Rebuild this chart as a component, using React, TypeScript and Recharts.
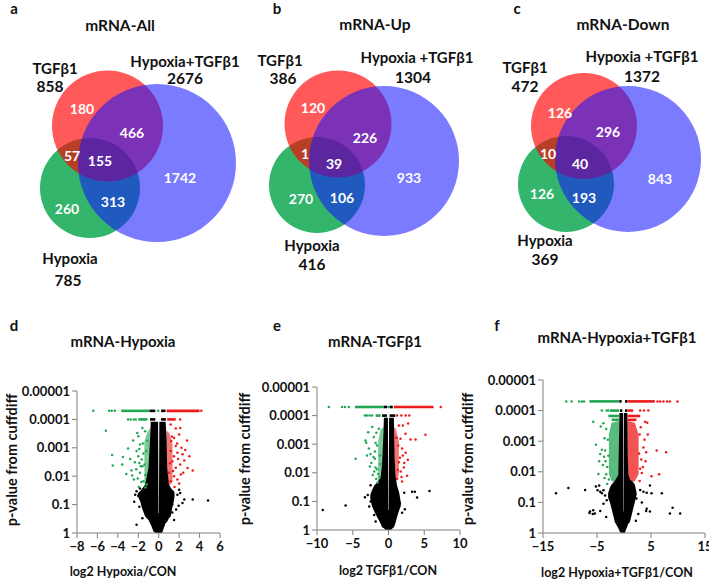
import React from 'react';
import { ComposedChart, ScatterChart, Scatter, XAxis, YAxis, Area, Line } from 'recharts';

const FONT = 'Lato, "Open Sans", Arial, sans-serif';

// ---------------- Venn data ----------------
const vennTitles = ['mRNA-All', 'mRNA-Up', 'mRNA-Down'];
const vennLetters = ['a', 'b', 'c'];
const tgfName = 'TGFβ1';
const hypName = 'Hypoxia';
const comboNames = ['Hypoxia+TGFβ1', 'Hypoxia +TGFβ1', 'Hypoxia +TGFβ1'];
const tgfTotals = [858, 386, 472];
const hypTotals = [785, 416, 369];
const comboTotals = [2676, 1304, 1372];
// region order: TGF only, TGF∩combo, TGF∩Hyp, all three, combo only, Hyp∩combo, Hyp only
const regionsAll = [180, 466, 57, 155, 1742, 313, 260];
const regionsUp = [120, 226, 1, 39, 933, 106, 270];
const regionsDown = [126, 296, 10, 40, 843, 193, 126];
const vennRegions = [regionsAll, regionsUp, regionsDown];

// ---------------- Venn layout (venn units, 1 unit = 10px) ----------------
const VENN_OFFSETS = [0, 23.6, 47.2];
// circles [cx, cy, r]: Hypoxia, TGFβ1, Hypoxia+TGFβ1
const vennCircleLayout = [
  [[9.0, 18.8, 5.0], [10.75, 12.6, 5.55], [15.7, 16.3, 7.9]],
  [[8.1, 18.5, 4.8], [10.2, 12.4, 5.35], [14.8, 16.1, 7.5]],
  [[9.4, 18.4, 4.8], [11.2, 12.6, 5.3], [15.6, 15.9, 7.3]],
];
const circleStyles = [
  { fill: 'rgb(0,162,70)', opacity: 0.8 },
  { fill: 'rgb(255,0,0)', opacity: 0.65 },
  { fill: 'rgb(20,20,255)', opacity: 0.56 },
];
const regionLabelLayout = [
  [[8.2, 10.8], [13.2, 13.2], [7.2, 15.5], [10.0, 16.0], [18.0, 17.7], [11.3, 20.1], [6.7, 20.8]],
  [[7.7, 10.7], [12.9, 13.7], [6.9, 15.3], [9.8, 16.3], [17.3, 17.7], [10.6, 19.7], [6.5, 19.8]],
  [[8.8, 11.2], [13.6, 13.1], [7.6, 15.3], [10.8, 16.3], [18.8, 17.8], [11.2, 19.7], [7.0, 19.3]],
];
// [name x, name y, count x, count y] for TGF, Hyp, combo
const setLabelLayout = [
  [[5.5, 6.8, 5.0, 8.6], [7.0, 25.8, 6.8, 28.0], [18.5, 6.1, 18.5, 7.8]],
  [[4.4, 6.0, 4.7, 7.8], [7.6, 24.5, 7.6, 26.4], [18.1, 5.7, 17.7, 7.7]],
  [[5.3, 6.7, 5.3, 8.6], [7.3, 24.0, 7.3, 25.9], [17.0, 5.6, 17.0, 7.6]],
];
const UNIT = 10;

// ---------------- Volcano data: [log2FC, p] ----------------
const pTicks = [0.00001, 0.0001, 0.001, 0.01, 0.1, 1];
const pTickLabels = ['0.00001', '0.0001', '0.001', '0.01', '0.1', '1'];
const hypXTicks = [-8, -6, -4, -2, 0, 2, 4, 6];
const tgfXTicks = [-10, -5, 0, 5, 10];
const comboXTicks = [-15, -5, 5, 15];

// dense black cloud: [x, p bottom, p top]
const hypCone = [
  [-2.05, 0.05, 0.04], [-1.8, 0.08, 0.033], [-1.65, 0.13, 0.028], [-1.33, 0.26, 0.02], [-1.0, 0.35, 0.005],
  [-0.85, 0.45, 0.0005], [-0.78, 0.5, 0.00012], [-0.5, 0.9, 0.00012], [-0.3, 1, 0.00012], [-0.06, 1, 0.00012],
  [-0.02, 1, 0.2], [0.02, 1, 0.2], [0.06, 1, 0.00012], [0.33, 1, 0.00012],
  [0.67, 0.45, 0.00012], [0.77, 0.42, 0.0004], [0.83, 0.4, 0.005], [1.0, 0.3, 0.02], [1.17, 0.26, 0.025],
  [1.33, 0.13, 0.03], [1.5, 0.07, 0.034], [1.55, 0.05, 0.04],
];
const hypGreenBand = [[-1.4, 0.02, 0.0006], [-1.15, 0.025, 0.0003], [-0.85, 0.02, 0.0002]];
const hypRedBand = [[0.77, 0.02, 0.00025], [1.05, 0.022, 0.0003], [1.35, 0.016, 0.0008]];
// dense rows: [p, x from, x to, colour]
const hypRows = [
  [0.00005, -3.67, -0.9, 'g'], [0.00005, -0.9, -0.33, 'k'], [0.00005, 0.23, 0.67, 'k'], [0.00005, 0.77, 4.0, 'r'],
  [0.0001, -2.0, -1.1, 'g'], [0.0001, -0.85, -0.33, 'k'], [0.0001, 0.23, 0.7, 'k'], [0.0001, 0.83, 1.67, 'r'],
];
const hypGreen = [
  [-6.4, 5e-5], [-4.85, 5e-5], [-4.6, 5e-5], [-4.3, 5e-5], [-0.05, 5e-5],
  [-3.0, 1e-4], [-2.75, 1e-4], [-2.45, 1e-4], [-2.25, 1e-4],
  [-5.17, 2.5e-4], [-4.57, 0.0018], [-4.5, 0.0042], [-3.5, 0.0021], [-3.57, 0.0039], [-3.17, 0.0083],
  [-3.0, 0.00105], [-2.67, 0.0063], [-2.5, 0.00055], [-2.33, 0.0032], [-2.17, 0.0013], [-2.43, 0.013],
  [-2.0, 0.00039], [-1.83, 0.00076], [-1.67, 0.0026], [-1.83, 0.0076], [-1.5, 0.015], [-1.33, 0.00026],
  [-1.4, 0.0039], [-1.23, 0.0013], [-1.17, 0.0195], [-1.1, 0.00057], [-2.0, 0.002], [-1.6, 0.0045],
  [-2.6, 0.0095], [-1.3, 0.009], [-2.2, 0.0057], [-1.9, 0.0011], [-1.55, 0.0007], [-1.7, 0.016],
  [-2.8, 0.0025], [-1.95, 0.024], [-1.3, 0.025], [-2.1, 0.0003], [-1.6, 0.0002], [-1.75, 0.0045],
  [-2.05, 0.012], [-1.5, 0.0016], [-1.9, 0.0034],
];
const hypRed = [
  [4.17, 5e-5], [2.1, 1e-4],
  [1.17, 1.5e-4], [1.67, 2.1e-4], [2.1, 2e-4], [2.0, 3.4e-4], [1.5, 4.5e-4], [2.77, 5.5e-4], [2.23, 0.001],
  [1.83, 0.0015], [2.33, 0.0017], [1.5, 0.002], [3.0, 0.002], [1.17, 0.0013], [1.33, 0.003], [2.1, 0.0039],
  [2.83, 0.0051], [3.33, 0.0063], [1.67, 0.005], [2.17, 0.0087], [1.5, 0.01], [1.17, 0.015], [1.83, 0.013],
  [1.0, 0.0075], [2.5, 0.0028], [1.23, 5.8e-4], [1.67, 8.7e-4], [2.6, 0.0012], [1.9, 0.0025], [1.4, 0.0065],
  [2.0, 0.018], [1.55, 0.024], [1.1, 0.0035], [1.8, 0.0007], [2.4, 0.0075], [1.3, 0.0004],
];
const hypBlack = [
  [4.83, 0.072], [3.33, 0.066], [2.5, 0.066], [2.1, 0.039], [2.33, 0.088], [1.83, 0.045], [1.33, 0.1],
  [1.33, 0.19], [1.7, 0.15], [-2.17, 0.51], [-2.17, 0.034], [-1.83, 0.027], [-2.0, 0.05], [-2.4, 0.08],
  [-1.9, 0.12], [-1.6, 0.3], [1.5, 0.35], [-2.3, 0.045], [2.0, 0.03], [1.95, 0.11],
];

const tgfCone = [
  [-2.55, 0.08, 0.06], [-2.3, 0.15, 0.04], [-2.0, 0.22, 0.028], [-1.6, 0.35, 0.022], [-1.1, 0.6, 0.015],
  [-0.9, 0.8, 0.005], [-0.7, 0.85, 0.0004], [-0.65, 0.87, 0.00012], [-0.4, 1, 0.00012], [-0.08, 1, 0.00012],
  [-0.03, 1, 0.2], [0.03, 1, 0.2], [0.08, 1, 0.00012], [0.3, 1, 0.00012], [0.75, 0.8, 0.00012],
  [0.85, 0.7, 0.003], [1.0, 0.55, 0.015], [1.2, 0.35, 0.028], [1.5, 0.2, 0.05], [1.7, 0.15, 0.1], [1.75, 0.12, 0.11],
];
const tgfGreenBand = [[-1.45, 0.02, 0.0008], [-1.1, 0.025, 0.0003], [-0.65, 0.02, 0.00025]];
const tgfRedBand = [[0.75, 0.02, 0.00025], [1.05, 0.022, 0.0003], [1.45, 0.012, 0.0008]];
const tgfRows = [
  [0.00005, -4.7, -0.65, 'g'], [0.00005, -0.65, -0.2, 'k'], [0.00005, 0.15, 0.6, 'k'], [0.00005, 0.75, 6.3, 'r'],
  [0.0001, -1.8, -1.1, 'g'], [0.0001, -0.9, -0.2, 'k'], [0.0001, 0.15, 0.95, 'k'],
];
const tgfGreen = [
  [-8.35, 5e-5], [-6.5, 5e-5], [-6.1, 5e-5], [-5.55, 5e-5], [-0.03, 5e-5],
  [-3.3, 1e-4], [-3.0, 1e-4], [-2.65, 1e-4], [-2.3, 1e-4],
  [-3.22, 7.4e-4], [-3.12, 8.9e-4], [-2.84, 3.8e-4], [-2.75, 0.0014], [-2.52, 0.0022], [-4.6, 0.0032],
  [-2.28, 2.5e-4], [-2.05, 5.6e-4], [-1.9, 0.0032], [-1.82, 0.0065], [-1.72, 0.0165], [-1.6, 0.0011],
  [-1.45, 0.011], [-1.35, 2.9e-4], [-1.21, 0.0025], [-1.12, 0.0049], [-2.4, 0.0045], [-2.0, 0.009],
  [-1.7, 0.0004], [-2.6, 0.006], [-1.5, 0.022], [-3.0, 0.0025], [-1.9, 0.0018], [-2.2, 0.012],
  [-1.6, 0.0075], [-2.1, 0.0028], [-1.8, 0.0009], [-1.25, 0.014],
];
const tgfRed = [
  [7.3, 5e-5], [1.2, 1e-4], [1.8, 1e-4], [2.4, 1e-4], [2.9, 1e-4],
  [1.45, 2.2e-4], [2.0, 2.2e-4], [2.75, 1.9e-4], [5.17, 4.7e-4], [3.78, 6.9e-4], [3.08, 6.9e-4],
  [2.38, 4.3e-4], [1.68, 6.5e-4], [1.35, 0.0011], [1.9, 0.0014], [2.0, 0.0025], [1.45, 0.0043],
  [2.14, 0.0065], [2.6, 0.0126], [1.82, 0.014], [1.2, 0.016], [1.6, 0.003], [2.4, 0.002], [1.3, 0.008],
  [1.9, 0.02], [2.7, 0.0035], [1.1, 0.0006], [1.7, 0.009], [2.2, 0.0045],
];
const tgfBlack = [
  [-9.2, 0.2], [-6.0, 0.14], [-3.3, 0.072], [-2.5, 0.1], [-2.5, 0.027], [3.3, 0.046], [3.68, 0.046],
  [5.73, 0.043], [4.0, 0.073], [2.28, 0.19], [-2.9, 0.06], [-2.0, 0.3], [1.9, 0.25], [2.2, 0.05],
  [-2.7, 0.15], [-1.8, 0.5],
];

const comboCone = [
  [-2.95, 0.07, 0.05], [-2.6, 0.1, 0.032], [-2.3, 0.16, 0.026], [-1.7, 0.44, 0.02], [-1.05, 0.7, 0.0125],
  [-0.9, 0.8, 0.0005], [-0.86, 0.85, 0.00012], [-0.74, 0.95, 0.00012], [-0.35, 1, 0.00012], [-0.16, 1, 0.00012],
  [-0.12, 1, 0.2], [-0.06, 1, 0.2], [-0.02, 1, 0.00012], [0.15, 1, 0.00012], [0.62, 0.6, 0.00012],
  [0.7, 0.55, 0.003], [0.8, 0.5, 0.0125], [1.1, 0.44, 0.018], [1.7, 0.16, 0.022], [2.0, 0.1, 0.026],
  [2.3, 0.06, 0.045], [2.35, 0.055, 0.05],
];
const comboGreenBand = [[-2.8, 0.012, 0.0006], [-2.3, 0.02, 0.00025], [-0.86, 0.026, 0.00022]];
const comboRedBand = [[0.62, 0.026, 0.00022], [2.0, 0.02, 0.00025], [2.7, 0.012, 0.0006]];
const comboRows = [
  [0.00005, -6.4, -0.86, 'g'], [0.00005, -0.86, -0.43, 'k'], [0.00005, 0.19, 0.62, 'k'], [0.00005, 0.62, 5.7, 'r'],
  [0.0001, -2.6, -0.86, 'g'], [0.0001, -0.74, -0.3, 'k'], [0.0001, 0.19, 0.62, 'k'], [0.0001, 0.62, 1.7, 'r'],
  [0.00015, -2.9, -0.86, 'g'], [0.00015, 0.62, 3.0, 'r'],
  [0.0002, -2.3, -0.86, 'g'], [0.0002, 0.62, 2.3, 'r'],
];
const comboGreen = [
  [-10.7, 5e-5], [-9.7, 5e-5], [-8.3, 5e-5], [-7.8, 5e-5], [-7.4, 5e-5],
  [-4.1, 1e-4], [-3.2, 1e-4], [-2.9, 1e-4],
  [-5.7, 2.3e-4], [-4.3, 3.3e-4], [-3.8, 2.6e-4], [-5.2, 0.0013], [-4.1, 0.0019], [-4.4, 0.0026],
  [-4.75, 0.0117], [-3.4, 0.0045], [-3.6, 0.0008], [-3.3, 0.012], [-3.9, 0.006], [-3.5, 0.002],
  [-4.6, 0.0045], [-3.6, 0.016], [-3.1, 0.025], [-3.3, 0.0004], [-3.0, 0.0009], [-2.9, 0.003],
  [-3.1, 0.007], [-2.8, 0.018], [-3.7, 0.0032],
];
const comboRed = [
  [6.2, 5e-5], [6.7, 5e-5], [7.3, 5e-5], [8.0, 5e-5], [8.5, 5e-5], [9.9, 5e-5],
  [3.0, 1e-4], [3.7, 1e-4], [4.5, 1e-4],
  [3.9, 2.3e-4], [4.3, 2.5e-4], [6.05, 0.002], [7.8, 0.0023], [5.1, 0.014], [6.5, 0.012], [4.1, 0.0023],
  [3.1, 3.5e-4], [3.6, 0.0016], [3.2, 0.004], [3.5, 0.007], [3.8, 0.0009], [3.3, 0.011], [2.9, 0.02],
  [4.4, 0.0006], [2.8, 0.0025], [3.0, 0.008], [4.0, 0.0045], [2.9, 0.0006],
];
const comboBlack = [
  [-12.6, 0.05], [-10.3, 0.034], [-7.2, 0.039], [-5.2, 0.03], [-4.9, 0.04], [-4.4, 0.045], [-4.1, 0.05],
  [-3.8, 0.04], [-4.6, 0.028], [-6.3, 0.2], [-6.4, 0.22], [-5.7, 0.18], [-5.4, 0.23], [-5.8, 0.24],
  [-4.4, 0.19], [-3.8, 0.11], [-3.2, 0.085], [3.0, 0.039], [3.6, 0.045], [4.2, 0.048], [4.8, 0.028],
  [5.1, 0.05], [7.0, 0.05], [4.2, 0.16], [4.1, 0.19], [4.8, 0.2], [9.0, 0.15], [8.5, 0.23], [10.4, 0.23],
  [2.3, 0.075], [2.65, 0.24], [-3.3, 0.3], [2.2, 0.4], [-3.5, 0.06], [3.3, 0.1],
];

// ---------------- styles ----------------
const GREEN = '#22a653';
const RED = '#ee1a1a';
const BLACK = '#000000';
const AXIS = '#808080';
const rowColor: Record<string, string> = { g: GREEN, r: RED, k: BLACK };

// ---------------- helpers ----------------
const toPts = (arr: number[][]) => arr.map(([x, p]) => ({ x, p }));
const toRange = (arr: number[][]) => arr.map(([x, lo, hi]) => ({ x, range: [lo, hi] }));
const fmtX = (v: number) => (v < 0 ? '\u2212' + Math.abs(v) : String(v));
const fmtP = (v: number) => {
  const i = pTicks.findIndex((t) => Math.abs(t - v) / t < 1e-6);
  return i >= 0 ? pTickLabels[i] : String(v);
};

const dot = (color: string) => (props: any) => {
  const { cx, cy } = props;
  if (cx == null || cy == null) return <g />;
  return <circle cx={cx} cy={cy} r={1.25} fill={color} />;
};

const VennCircle = (props: any) => {
  const { cx, cy, payload } = props;
  return <circle cx={cx} cy={cy} r={payload.r * UNIT} fill={payload.fill} fillOpacity={payload.opacity} />;
};

const VennText = (props: any) => {
  const { cx, cy, payload } = props;
  return (
    <text x={cx} y={cy} textAnchor="middle" dominantBaseline="central" fontSize={payload.size}
      fontWeight={700} fontFamily={FONT} fill={payload.fill}>{payload.text}</text>
  );
};

const circleData: any[] = [];
const vennTextData: any[] = [];
for (let i = 0; i < 3; i++) {
  const off = VENN_OFFSETS[i];
  vennCircleLayout[i].forEach(([cx, cy, r], j) => {
    circleData.push({ x: cx + off, y: cy, r, ...circleStyles[j] });
  });
  vennRegions[i].forEach((count, k) => {
    const [lx, ly] = regionLabelLayout[i][k];
    vennTextData.push({ x: lx + off, y: ly, text: String(count), size: 14, fill: '#ffffff' });
  });
  const names = [tgfName, hypName, comboNames[i]];
  const totals = [tgfTotals[i], hypTotals[i], comboTotals[i]];
  setLabelLayout[i].forEach(([nx, ny, tx, ty], k) => {
    vennTextData.push({ x: nx + off, y: ny, text: names[k], size: 15, fill: '#111' });
    vennTextData.push({ x: tx + off, y: ty, text: String(totals[k]), size: 15.5, fill: '#111' });
  });
}

const Txt = ({ x, y, size, children, rotate }: any) => (
  <div style={{
    position: 'absolute', left: x, top: y,
    transform: `translate(-50%, -50%)${rotate ? ' rotate(-90deg)' : ''}`,
    fontSize: size, fontWeight: 700, fontFamily: FONT, whiteSpace: 'nowrap', lineHeight: 1, color: '#111',
  }}>{children}</div>
);

const tickStyle = { fill: '#111', fontSize: 13, fontWeight: 700, fontFamily: FONT };

function Volcano(props: any) {
  const { left, width, margin, xDomain, xTicks, cone, greenBand, redBand, bandOpacity, rows, green, red, black } = props;
  return (
    <div style={{ position: 'absolute', left, top: 300 }}>
      <ComposedChart width={width} height={280} margin={margin}>
        <XAxis type="number" dataKey="x" domain={xDomain} ticks={xTicks} interval={0} allowDataOverflow
          tickFormatter={fmtX} stroke={AXIS} tickSize={5} tickMargin={4} height={30} tick={tickStyle} />
        <YAxis type="number" dataKey="p" scale="log" domain={[0.00001, 1]} reversed ticks={pTicks}
          interval={0} allowDataOverflow tickFormatter={fmtP} width={60} stroke={AXIS} tickSize={5} tick={tickStyle} />
        <Area data={toRange(greenBand)} dataKey="range" type="linear" stroke="none" fill={GREEN} fillOpacity={bandOpacity}
          isAnimationActive={false} dot={false} activeDot={false} />
        <Area data={toRange(redBand)} dataKey="range" type="linear" stroke="none" fill={RED} fillOpacity={bandOpacity}
          isAnimationActive={false} dot={false} activeDot={false} />
        <Area data={toRange(cone)} dataKey="range" type="linear" stroke="none" fill={BLACK} fillOpacity={1}
          isAnimationActive={false} dot={false} activeDot={false} />
        {rows.map(([p, x1, x2, c]: any[], i: number) => (
          <Line key={'row' + i} data={[{ x: x1, p }, { x: x2, p }]} dataKey="p" type="linear" stroke={rowColor[c]}
            strokeWidth={2.6} dot={false} activeDot={false} isAnimationActive={false} />
        ))}
        <Scatter data={toPts(black)} shape={dot(BLACK)} isAnimationActive={false} />
        <Scatter data={toPts(green)} shape={dot(GREEN)} isAnimationActive={false} />
        <Scatter data={toPts(red)} shape={dot(RED)} isAnimationActive={false} />
      </ComposedChart>
    </div>
  );
}

export default function App() {
  return (
    <div style={{ position: 'absolute', left: 0, top: 0, width: 709, height: 580, background: '#fff', overflow: 'hidden' }}>
      <div style={{ position: 'absolute', left: 0, top: 0 }}>
        <ScatterChart width={709} height={300} margin={{ top: 0, right: 0, bottom: 0, left: 0 }}>
          <XAxis type="number" dataKey="x" domain={[0, 70.9]} hide allowDataOverflow />
          <YAxis type="number" dataKey="y" domain={[0, 30]} reversed hide allowDataOverflow />
          <Scatter data={circleData} shape={VennCircle} isAnimationActive={false} />
          <Scatter data={vennTextData} shape={VennText} isAnimationActive={false} />
        </ScatterChart>
      </div>

      <Txt x={14} y={8} size={15}>{vennLetters[0]}</Txt>
      <Txt x={277} y={8} size={15}>{vennLetters[1]}</Txt>
      <Txt x={517} y={8} size={15}>{vennLetters[2]}</Txt>
      <Txt x={120} y={26} size={15.5}>{vennTitles[0]}</Txt>
      <Txt x={375} y={25} size={15.5}>{vennTitles[1]}</Txt>
      <Txt x={623} y={25} size={15.5}>{vennTitles[2]}</Txt>

      <Volcano left={0} width={236} margin={{ top: 91, right: 16, bottom: 17, left: 17 }}
        xDomain={[-8, 6]} xTicks={hypXTicks} cone={hypCone} greenBand={hypGreenBand} redBand={hypRedBand}
        bandOpacity={0.6} rows={hypRows} green={hypGreen} red={hypRed} black={hypBlack} />
      <Volcano left={236} width={236} margin={{ top: 87, right: 12, bottom: 20, left: 21 }}
        xDomain={[-10, 10]} xTicks={tgfXTicks} cone={tgfCone} greenBand={tgfGreenBand} redBand={tgfRedBand}
        bandOpacity={0.6} rows={tgfRows} green={tgfGreen} red={tgfRed} black={tgfBlack} />
      <Volcano left={472} width={237} margin={{ top: 80, right: 4, bottom: 17, left: 11 }}
        xDomain={[-15, 15]} xTicks={comboXTicks} cone={comboCone} greenBand={comboGreenBand} redBand={comboRedBand}
        bandOpacity={0.75} rows={comboRows} green={comboGreen} red={comboRed} black={comboBlack} />

      <Txt x={14} y={325} size={15}>d</Txt>
      <Txt x={277} y={325} size={15}>e</Txt>
      <Txt x={497} y={325} size={15}>f</Txt>
      <Txt x={123} y={341} size={15}>mRNA-Hypoxia</Txt>
      <Txt x={375} y={341} size={15}>mRNA-TGFβ1</Txt>
      <Txt x={617} y={337} size={15}>mRNA-Hypoxia+TGFβ1</Txt>
      <Txt x={12} y={460} size={14.5} rotate>p-value from cuffdiff</Txt>
      <Txt x={245} y={459} size={14.5} rotate>p-value from cuffdiff</Txt>
      <Txt x={468} y={459} size={14.5} rotate>p-value from cuffdiff</Txt>
      <Txt x={123} y={572} size={12.5}>log2 Hypoxia/CON</Txt>
      <Txt x={388} y={571} size={12.5}>log2 TGFβ1/CON</Txt>
      <Txt x={617} y={573} size={12.5}>log2 Hypoxia+TGFβ1/CON</Txt>
    </div>
  );
}
